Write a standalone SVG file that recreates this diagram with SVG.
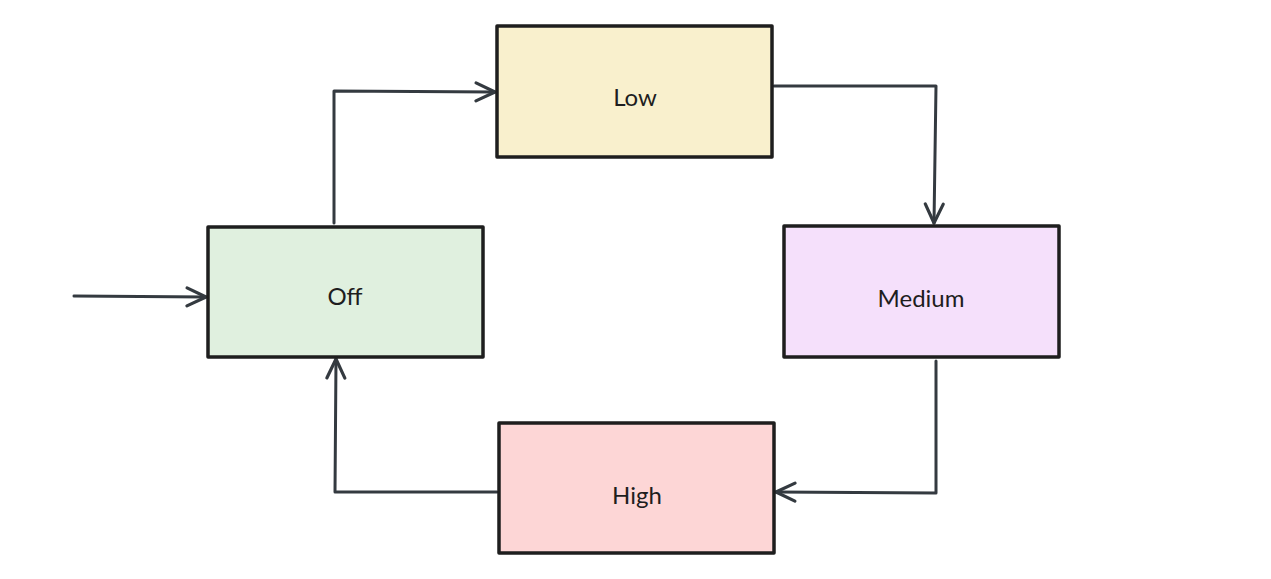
<svg xmlns="http://www.w3.org/2000/svg" width="1271" height="579" viewBox="0 0 1271 579">
<style>
.box{stroke:#1e1e1e;stroke-width:3.5;stroke-linejoin:round}
.lbl{font-family:"Lato","Liberation Sans",sans-serif;font-size:24px;fill:#1e1e1e;text-anchor:middle;dominant-baseline:central}
.edge{fill:none;stroke:#343a40;stroke-width:3;stroke-linecap:round;stroke-linejoin:round;marker-end:url(#arr)}
</style>
<defs>
<marker id="arr" markerUnits="userSpaceOnUse" markerWidth="30" markerHeight="30" viewBox="-20 -15 25 30" refX="0" refY="0" orient="auto">
<path d="M-19,-9 L0,0 L-19,9" fill="none" stroke="#343a40" stroke-width="3.2" stroke-linecap="round" stroke-linejoin="round"/>
</marker>
</defs>
<rect width="1271" height="579" fill="#ffffff"/>
<g id="connectors">
<path class="edge" d="M74,296 L206,297"/>
<path class="edge" d="M334,223 L334,91 L495,92"/>
<path class="edge" d="M774,86 L936,86 L934,223"/>
<path class="edge" d="M936,361 L936,493 L776,492"/>
<path class="edge" d="M497,492 L335,492 L336,359"/>
</g>
<g id="off"><rect class="box" x="208" y="227" width="275" height="130" fill="#e0f0df"/><text class="lbl" x="345" y="295">Off</text></g>
<g id="low"><rect class="box" x="497" y="26" width="275" height="131" fill="#f9f0cd"/><text class="lbl" x="635" y="96">Low</text></g>
<g id="medium"><rect class="box" x="784" y="226" width="275" height="131" fill="#f5e0fb"/><text class="lbl" x="921" y="297">Medium</text></g>
<g id="high"><rect class="box" x="499" y="423" width="275" height="130" fill="#fdd6d6"/><text class="lbl" x="637" y="494">High</text></g>
</svg>
